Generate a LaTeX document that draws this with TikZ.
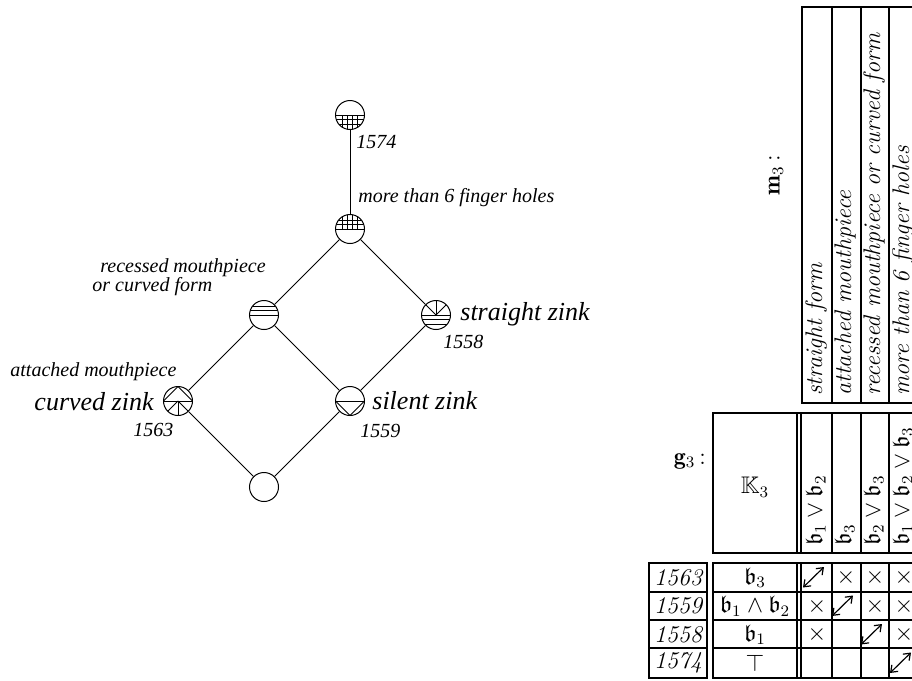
\documentclass[tikz,border=0pt]{standalone}
\usepackage{amsmath, amssymb}
\usepackage{fontspec}
\newfontfamily\latticefont{Liberation Serif}
\usetikzlibrary{arrows.meta, positioning}

\begin{document}
\begin{tikzpicture}[
  x=0.5pt, y=-0.5pt,
  every node/.style={inner sep=0pt},
  concept/.style={draw, circle, minimum size=14.5pt, inner sep=0pt, fill=white, line width=0.5pt},
  edge/.style={line width=0.5pt},
  lab/.style={font=\latticefont\itshape\fontsize{10}{9.5}\selectfont, anchor=west},
  objname/.style={font=\latticefont\itshape\fontsize{13}{13}\selectfont},
  tab/.style={line width=1pt},
  cell/.style={font=\fontsize{12}{12}\selectfont},
  arr/.style={{Straight Barb[length=3pt,width=4.5pt]}-{Straight Barb[length=3pt,width=4.5pt]}, line width=0.6pt},
  % patterns inside the concept circles
  gridlow/.style={path picture={\begin{scope}[shift={(path picture bounding box.center)}, line width=0.4pt]
      \foreach \v in {0,4.5,9} \draw (-15,\v) -- (15,\v);
      \foreach \u in {-7.5,-2.5,2.5,7.5} \draw (\u,0) -- (\u,15);
    \end{scope}}},
  gridup/.style={path picture={\begin{scope}[shift={(path picture bounding box.center)}, line width=0.4pt]
      \foreach \v in {0,-4.5,-9} \draw (-15,\v) -- (15,\v);
      \foreach \u in {-7.5,-2.5,2.5,7.5} \draw (\u,0) -- (\u,-15);
    \end{scope}}},
  linesup/.style={path picture={\begin{scope}[shift={(path picture bounding box.center)}, line width=0.4pt]
      \foreach \v in {0,-4.5,-9} \draw (-15,\v) -- (15,\v);
    \end{scope}}},
  fanup/.style={path picture={\begin{scope}[shift={(path picture bounding box.center)}, line width=0.4pt]
      \foreach \v in {0,4.5,9} \draw (-15,\v) -- (15,\v);
      \foreach \a in {-45,-90,-135} \draw (0,0) -- (\a:15);
    \end{scope}}},
  triup/.style={path picture={\begin{scope}[shift={(path picture bounding box.center)}, line width=0.4pt]
      \draw (-15,0) -- (15,0);
      \draw (-14.5,0) -- (0,-14.5) -- (14.5,0);
      \foreach \a in {45,90,135} \draw (0,0) -- (\a:15);
    \end{scope}}},
  tridown/.style={path picture={\begin{scope}[shift={(path picture bounding box.center)}, line width=0.4pt]
      \draw (-15,0) -- (15,0);
      \draw (-14.5,0) -- (0,14.5) -- (14.5,0);
    \end{scope}}},
]
  \clip (0,0) rectangle (912,681);

  % Lattice
  \node[concept, gridlow] (c1574) at (350,115) {};
  \node[concept, gridup] (choles) at (350,229) {};
  \node[concept, linesup] (crecess) at (264,315) {};
  \node[concept, fanup] (cstraight) at (436,315) {};
  \node[concept, triup] (ccurved) at (178,401) {};
  \node[concept, tridown] (csilent) at (350,401) {};
  \node[concept] (cbottom) at (264,487) {};

  \draw[edge] (c1574) -- (choles);
  \draw[edge] (choles) -- (crecess);
  \draw[edge] (choles) -- (cstraight);
  \draw[edge] (crecess) -- (ccurved);
  \draw[edge] (crecess) -- (csilent);
  \draw[edge] (cstraight) -- (csilent);
  \draw[edge] (ccurved) -- (cbottom);
  \draw[edge] (csilent) -- (cbottom);

  % labels
  \node[lab] (l1574) at (356,142) {1574};
  \node[lab] (lholes) at (358,198) {more than 6 finger holes};
  \node[lab, align=left] (lrecess) at (92,277) {\hspace{4pt}recessed mouthpiece\\or curved form};
  \node[objname, anchor=west] (nstraight) at (460,314) {straight zink};
  \node[lab] (l1558) at (443,342) {1558};
  \node[lab] (lattach) at (10,372) {attached mouthpiece};
  \node[objname, anchor=east] (ncurved) at (154,402) {curved zink};
  \node[lab] (l1563) at (133,430) {1563};
  \node[objname, anchor=west] (nsilent) at (372,401) {silent zink};
  \node[lab] (l1559) at (360,431) {1559};

  % Attribute header
  \node[cell, rotate=90] (mlab) at (776,175) {$\mathbf{m}_3$\,:};
  \draw[tab] (802,7) rectangle (918,403);
  \foreach \x in {832,861,889} \draw[tab] (\x,7) -- (\x,403);
  \foreach \t [count=\i] in {straight form, attached mouthpiece,
      recessed mouthpiece or curved form, more than 6 finger holes}
    \node[cell, rotate=90, anchor=base west] (m\i) at ({802+29*\i-9},396) {\itshape \t};

  % K3 header
  \node[cell] (glab) at (690,461) {$\mathbf{g}_3$\,:};
  \draw[tab] (713,413) rectangle (918,553);
  \foreach \x in {797,801,832,861,889} \draw[tab] (\x,413) -- (\x,553);
  \node[cell] (kname) at (755,487) {$\mathbb{K}_3$};
  \foreach \t [count=\i] in {$\mathfrak{b}_1\vee\mathfrak{b}_2$, $\mathfrak{b}_3$,
      $\mathfrak{b}_2\vee\mathfrak{b}_3$, $\mathfrak{b}_1\vee\mathfrak{b}_2\vee\mathfrak{b}_3$}
    \node[cell, rotate=90, anchor=base west] (h\i) at ({802+29*\i-9},546) {\t};

  % Rows
  \draw[tab] (649,563) rectangle (707,678);
  \draw[tab] (713,563) rectangle (918,678);
  \foreach \y in {592,620,648} {
    \draw[tab] (649,\y) -- (707,\y);
    \draw[tab] (713,\y) -- (918,\y);
  }
  \foreach \x in {797,801,832,861,889} \draw[tab] (\x,563) -- (\x,678);
  \foreach \g/\e [count=\r] in {1563/{$\mathfrak{b}_3$}, 1559/{$\mathfrak{b}_1\wedge\mathfrak{b}_2$},
      1558/{$\mathfrak{b}_1$}, 1574/{$\top$}} {
    \node[cell] (g\r) at (678,{563+28.5*\r-14}) {\itshape \g};
    \node[cell] (e\r) at (755,{563+28.5*\r-14}) {\e};
  }

  % crosses
  \foreach \c/\r in {2/1,3/1,4/1,1/2,3/2,4/2,1/3,4/3}
    \node[cell] (x\c\r) at ({817+29*(\c-1)},{563+28.5*\r-14}) {$\times$};

  % arrows on the diagonal
  \foreach \i in {1,2,3,4} {
    \coordinate (a\i) at ({803+29*(\i-1)},{563+28.5*\i-4});
    \coordinate (b\i) at ({824+29*(\i-1)},{563+28.5*(\i-1)+4});
    \draw[arr] (a\i) -- (b\i);
  }
\end{tikzpicture}
\end{document}
